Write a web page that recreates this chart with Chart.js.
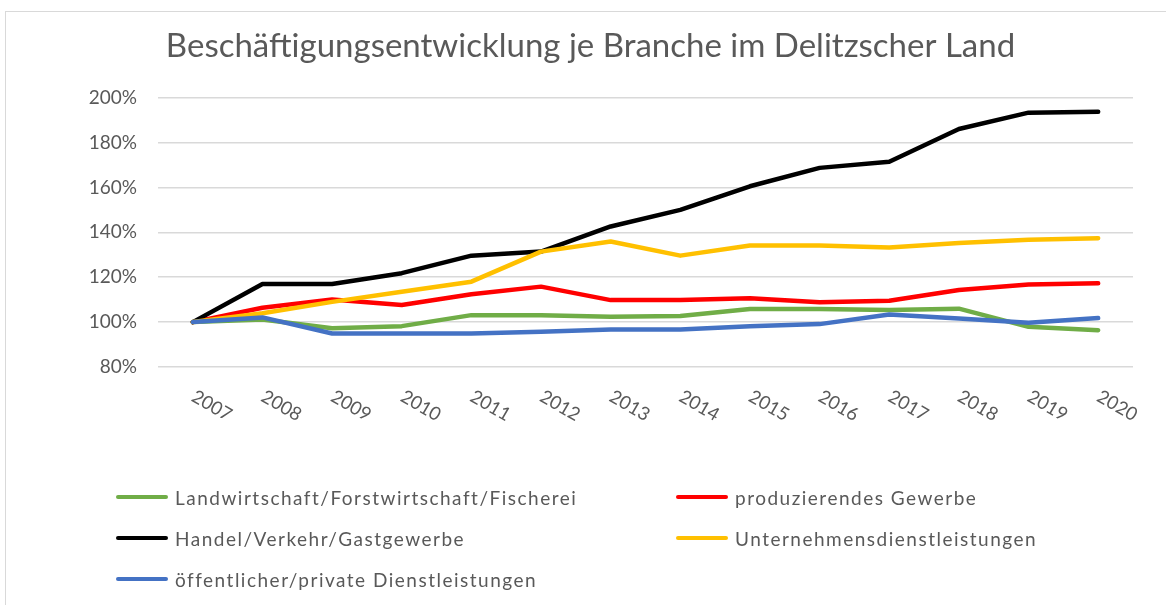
<!DOCTYPE html>
<html>
<head>
<meta charset="utf-8">
<script src="https://cdn.jsdelivr.net/npm/chart.js@4/dist/chart.umd.min.js"></script>
<style>
  body { margin: 0; background: #fff; }
  #wrap { position: relative; width: 1166px; height: 605px; overflow: hidden; }
  #frame { position: absolute; left: 5px; top: 11px; width: 1200px; height: 700px; border: 1px solid #d9d9d9; box-sizing: border-box; }
  #legend { position: absolute; left: 116px; top: 486px; width: 1040px; display: grid; grid-template-columns: 560px 440px; row-gap: 19px; font-family: Lato, sans-serif; font-size: 19px; letter-spacing: 1.5px; color: #595959; }
  .item { display: flex; align-items: center; height: 22px; white-space: nowrap; }
  .swatch { width: 52px; height: 4px; border-radius: 2px; margin-right: 7px; }
</style>
</head>
<body>
<div id="wrap">
  <div id="frame"></div>
  <canvas id="myChart" width="1166" height="605"></canvas>
  <div id="legend"></div>
</div>
<script>
var years = ['2007', '2008', '2009', '2010', '2011', '2012', '2013', '2014', '2015', '2016', '2017', '2018', '2019', '2020'];

var landwirtschaft = [100, 101.2, 97.3, 98.2, 103.1, 103.1, 102.4, 102.7, 105.8, 105.8, 105.4, 106, 97.9, 96.4];
var produzierend = [100, 106.4, 110.1, 107.6, 112.4, 115.8, 109.8, 109.8, 110.6, 108.8, 109.5, 114.3, 116.7, 117.3];
var handel = [100, 117, 117, 121.8, 129.6, 131.4, 142.6, 150, 160.5, 168.7, 171.4, 186, 193.3, 193.7];
var unternehmen = [100, 103.9, 109, 113.5, 118, 131.4, 135.9, 129.6, 134.1, 134.1, 133.2, 135.2, 136.7, 137.4];
var oeffentlich = [100, 102.1, 94.9, 94.9, 94.9, 95.7, 96.7, 96.7, 98.2, 99.1, 103.4, 101.6, 99.7, 101.8];

var yTicks = [80, 100, 120, 140, 160, 180, 200];

function series(label, data, color, order) {
    return {
        label: label,
        data: data,
        borderColor: color,
        backgroundColor: color,
        borderWidth: 4.5,
        pointRadius: 0,
        fill: false,
        tension: 0,
        borderCapStyle: 'round',
        borderJoinStyle: 'round',
        order: order
    };
}

// draws the slanted year labels under the x axis
var slantLabels = {
    id: 'slantLabels',
    afterDraw: function (chart) {
        var ctx = chart.ctx;
        var xs = chart.scales.x;
        var top = chart.chartArea.bottom + 20;
        ctx.save();
        ctx.font = '18.5px Lato';
        ctx.fillStyle = '#595959';
        ctx.textAlign = 'left';
        ctx.textBaseline = 'top';
        years.forEach(function (y, i) {
            ctx.save();
            ctx.translate(xs.getPixelForValue(i) + 5, top);
            ctx.rotate(30 * Math.PI / 180);
            ctx.fillText(y, 0, 0);
            ctx.restore();
        });
        ctx.restore();
    }
};

var ctx = document.getElementById('myChart');
var myChart = new Chart(ctx, {
    type: 'line',
    data: {
        labels: years,
        datasets: [
            series('Landwirtschaft/Forstwirtschaft/Fischerei', landwirtschaft, '#70ad47', 5),
            series('produzierendes Gewerbe', produzierend, '#ff0000', 4),
            series('Handel/Verkehr/Gastgewerbe', handel, '#000000', 3),
            series('Unternehmensdienstleistungen', unternehmen, '#ffc000', 2),
            series('öffentlicher/private Dienstleistungen', oeffentlich, '#4472c4', 1)
        ]
    },
    options: {
        responsive: false,
        animation: false,
        layout: { padding: { left: 48, right: 33, top: 0, bottom: 0 } },
        plugins: {
            legend: { display: false },
            tooltip: { enabled: false },
            title: {
                display: true,
                text: 'Beschäftigungsentwicklung je Branche im Delitzscher Land',
                color: '#595959',
                font: { family: 'Lato', size: 33, weight: 'normal' },
                padding: { top: 27, bottom: 31 }
            }
        },
        scales: {
            x: {
                offset: true,
                grid: { display: false, drawTicks: false },
                border: { display: false },
                ticks: { display: false },
                afterFit: function (scale) { scale.height = 238; }
            },
            y: {
                min: 80,
                max: 200,
                afterBuildTicks: function (scale) {
                    scale.ticks = yTicks.map(function (v) { return { value: v }; });
                },
                grid: { color: '#d9d9d9', lineWidth: 1.5, drawTicks: false },
                border: { display: false },
                ticks: {
                    padding: 21,
                    color: '#595959',
                    font: { family: 'Lato', size: 19 },
                    callback: function (v) { return v + '%'; }
                },
                afterFit: function (scale) { scale.width = 110; }
            }
        }
    },
    plugins: [slantLabels]
});

// legend in two columns, built from the chart's datasets
var legendEl = document.getElementById('legend');
myChart.data.datasets.forEach(function (ds) {
    var item = document.createElement('div');
    item.className = 'item';
    var sw = document.createElement('span');
    sw.className = 'swatch';
    sw.style.background = ds.borderColor;
    var txt = document.createElement('span');
    txt.textContent = ds.label;
    item.appendChild(sw);
    item.appendChild(txt);
    legendEl.appendChild(item);
});
</script>
</body>
</html>
